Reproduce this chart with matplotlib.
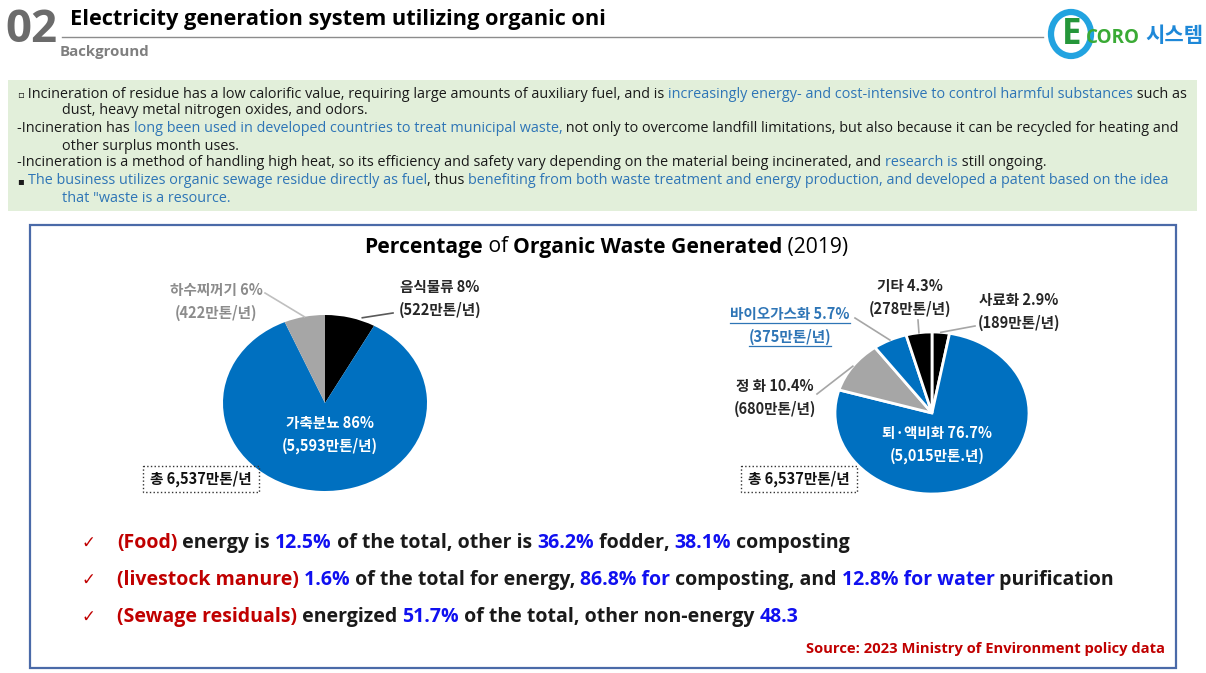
import matplotlib
matplotlib.use('Agg')
import matplotlib.pyplot as plt
from matplotlib.patches import Rectangle, Ellipse
import numpy as np

# ---- data ----
left_names = ['음식물류', '가축분뇨', '하수찌꺼기']
left_tons = [522, 5593, 422]
left_pct = ['8%', '86%', '6%']
left_amount = ['(522만톤/년)', '(5,593만톤/년)', '(422만톤/년)']
left_colors = ['#000000', '#0070c0', '#a6a6a6']

right_names = ['사료화', '퇴·액비화', '정 화', '바이오가스화', '기타']
right_pct = [2.9, 76.7, 10.4, 5.7, 4.3]
right_amount = ['(189만톤/년)', '(5,015만톤.년)', '(680만톤/년)', '(375만톤/년)', '(278만톤/년)']
right_colors = ['#000000', '#0070c0', '#a6a6a6', '#0070c0', '#000000']

total_label = '총 6,537만톤/년'

W, H = 1206, 673
EN = ['Open Sans', 'Noto Sans CJK KR', 'DejaVu Sans']
KR = ['Noto Sans CJK KR', 'DejaVu Sans']
SYM = ['DejaVu Sans']
BLK = '#1a1a1a'
BLUE = '#2e75b6'
RED = '#c00000'
PBLUE = '#1010f0'

fig = plt.figure(figsize=(W / 100, H / 100), dpi=100)
bg = fig.add_axes((0, 0, 1, 1))
bg.set_xlim(0, W)
bg.set_ylim(H, 0)
bg.axis('off')
bg.set_zorder(5)   # text layer above the pie axes
R = fig.canvas.get_renderer()


def width(s, size, weight, fam):
    t = bg.text(0, 0, s, fontsize=size, fontweight=weight, family=fam)
    w = t.get_window_extent(R).width
    t.remove()
    return w


def adv(s, size, weight, fam):
    return width('.' + s + '.', size, weight, fam) - width('..', size, weight, fam)


def runs(x, y, parts, size, fam=EN, fit=None, align='left'):
    # each part: (text, color, weight[, family[, size factor]])
    parts = [tuple(p) + (fam, 1.0)[len(p) - 3:] for p in parts]
    if fit:
        size = size * fit / sum(adv(s, size * k, wt, f) for s, c, wt, f, k in parts)
    total = sum(adv(s, size * k, wt, f) for s, c, wt, f, k in parts)
    if align == 'right':
        x -= total
    elif align == 'center':
        x -= total / 2
    for s, c, wt, f, k in parts:
        bg.text(x, y, s, color=c, fontsize=size * k, fontweight=wt, family=f,
                va='center', ha='left')
        x += adv(s, size * k, wt, f)
    return size


# ---- header ----
runs(5, 31, [('02', '#6b6b6b', 'bold')], 34, fit=52)
runs(70, 20, [('Electricity generation system utilizing organic oni', '#000000', 'bold')], 15, fit=538)
runs(60, 52, [('Background', '#7f7f7f', 'bold')], 10, fit=90)
bg.plot([62, 1043], [37, 37], color='#8c8c8c', lw=1)

# logo
bg.add_patch(Ellipse((1071, 34), 40, 44, fill=False, ec='#22a3e0', lw=4.5))
runs(1072, 35, [('E', '#25963a', 'bold')], 25, align='center')
runs(1086, 38, [('CORO', '#3aaa35', 'bold')], 12, fit=52)
runs(1145, 36, [('시스템', '#1e88d8', 'bold')], 14, fam=KR, fit=58)

# ---- green text box ----
bg.add_patch(Rectangle((8, 80), 1189, 131, fc='#e2efda', ec='none'))
box_lines = [
    (17, 94, [('▫', BLK, 'normal', SYM, 0.7),
              (' Incineration of residue has a low calorific value, requiring large amounts of auxiliary fuel, and is ', BLK, 'normal'),
              ('increasingly energy- and cost-intensive to control harmful substances', BLUE, 'normal'),
              (' such as', BLK, 'normal')]),
    (62, 111, [('dust, heavy metal nitrogen oxides, and odors.', BLK, 'normal')]),
    (17, 129, [('-Incineration has ', BLK, 'normal'),
               ('long been used in developed countries to treat municipal waste,', BLUE, 'normal'),
               (' not only to overcome landfill limitations, but also because it can be recycled for heating and', BLK, 'normal')]),
    (62, 146, [('other surplus month uses.', BLK, 'normal')]),
    (17, 163, [('-Incineration is a method of handling high heat, so its efficiency and safety vary depending on the material being incinerated, and ', BLK, 'normal'),
               ('research is', BLUE, 'normal'),
               (' still ongoing.', BLK, 'normal')]),
    (17, 181, [('▪', BLK, 'normal', SYM, 0.7), (' ', BLK, 'normal'),
               ('The business utilizes organic sewage residue directly as fuel', BLUE, 'normal'),
               (', thus ', BLK, 'normal'),
               ('benefiting from both waste treatment and energy production, and developed a patent based on the idea', BLUE, 'normal')]),
    (62, 198, [('that "waste is a resource.', BLUE, 'normal')]),
]
body = runs(box_lines[2][0], box_lines[2][1], box_lines[2][2], 10, fit=1165)
for i, (x, y, parts) in enumerate(box_lines):
    if i != 2:
        runs(x, y, parts, body)

# ---- chart frame ----
bg.add_patch(Rectangle((30, 225), 1146, 443, fill=False, ec='#4a6aa8', lw=1.6))
runs(606, 247, [('Percentage', '#000000', 'bold'), (' of ', '#000000', 'normal'),
                ('Organic Waste Generated', '#000000', 'bold'), (' (2019)', '#000000', 'normal')],
     15, align='center', fit=485)


def pie_axes(cx, cy, rx, ry):
    return fig.add_axes(((cx - rx) / W, (H - cy - ry) / H, 2 * rx / W, 2 * ry / H))


def edge_pt(ax, w, r=1.0):
    a = np.deg2rad((w.theta1 + w.theta2) / 2)
    d = ax.transData.transform((r * np.cos(a), r * np.sin(a)))
    return bg.transData.inverted().transform(d)


def label(x, y, l1, l2, color, underline=False):
    for s, yy in ((l1, y), (l2, y + 23)):
        t = bg.text(x, yy, s, color=color, fontsize=10.5, fontweight='bold', family=KR,
                    ha='center', va='center')
        if underline:
            bb = t.get_window_extent(R)
            yb = H - bb.y0 + 1
            bg.plot([bb.x0, bb.x1], [yb, yb], color=color, lw=0.9)


def leader(p, q, color):
    bg.plot([p[0], q[0]], [p[1], q[1]], color=color, lw=1.2)


# left pie
axL = pie_axes(325, 403, 102, 88)
wl, _ = axL.pie(left_tons, colors=left_colors, startangle=90, counterclock=False,
                wedgeprops=dict(linewidth=0))
axL.set_aspect('auto')
axL.set_xlim(-1, 1)
axL.set_ylim(-1, 1)

label(440, 287, f'{left_names[0]} {left_pct[0]}', left_amount[0], '#262626')
label(330, 423, f'{left_names[1]} {left_pct[1]}', left_amount[1], 'white')
label(216, 290, f'{left_names[2]} {left_pct[2]}', left_amount[2], '#8c8c8c')
leader(edge_pt(axL, wl[0], 1.0) + [12, 0], (393, 313), '#595959')
leader(edge_pt(axL, wl[2], 1.0), (265, 293), '#bfbfbf')

# right pie
axR = pie_axes(932, 413, 97, 81)
wr, _ = axR.pie(right_pct, colors=right_colors, startangle=90, counterclock=False,
                wedgeprops=dict(linewidth=2, edgecolor='white'))
axR.set_aspect('auto')
axR.set_xlim(-1, 1)
axR.set_ylim(-1, 1)

label(1019, 300, f'{right_names[0]} {right_pct[0]}%', right_amount[0], '#262626')
label(937, 433, f'{right_names[1]} {right_pct[1]}%', right_amount[1], 'white')
label(775, 386, f'{right_names[2]} {right_pct[2]}%', right_amount[2], '#262626')
label(790, 314, f'{right_names[3]} {right_pct[3]}%', right_amount[3], BLUE, underline=True)
label(910, 286, f'{right_names[4]} {right_pct[4]}%', right_amount[4], '#262626')
leader(edge_pt(axR, wr[0]), (975, 326), '#a6a6a6')
leader(edge_pt(axR, wr[2]), (817, 394), '#a6a6a6')
leader(edge_pt(axR, wr[3]), (855, 318), '#a6a6a6')
leader(edge_pt(axR, wr[4]), (918, 320), '#a6a6a6')

# total boxes
for x0 in (143, 741):
    bg.add_patch(Rectangle((x0, 466), 116, 26, fill=False, ec='#333333', lw=1, ls=':'))
    bg.text(x0 + 58, 479, total_label, fontsize=10.5, fontweight='bold', family=KR,
            color='#111111', ha='center', va='center')

# ---- bullet points ----
bullets = [
    (543, [('(Food)', RED, 'bold'), (' energy is ', BLK, 'bold'), ('12.5%', PBLUE, 'bold'),
           (' of the total, other is ', BLK, 'bold'), ('36.2%', PBLUE, 'bold'),
           (' fodder, ', BLK, 'bold'), ('38.1%', PBLUE, 'bold'), (' composting', BLK, 'bold')]),
    (580, [('(livestock manure)', RED, 'bold'), (' 1.6%', PBLUE, 'bold'),
           (' of the total for energy, ', BLK, 'bold'), ('86.8% for', PBLUE, 'bold'),
           (' composting, and ', BLK, 'bold'), ('12.8% for water', PBLUE, 'bold'),
           (' purification', BLK, 'bold')]),
    (617, [('(Sewage residuals)', RED, 'bold'), (' energized ', BLK, 'bold'),
           ('51.7%', PBLUE, 'bold'), (' of the total, other non-energy ', BLK, 'bold'),
           ('48.3', PBLUE, 'bold')]),
]
bsize = runs(117, bullets[1][0], bullets[1][1], 14, fit=1003)
for i, (y, parts) in enumerate(bullets):
    bg.text(88, y, '✓', color=RED, fontsize=12, family=SYM, ha='center', va='center')
    if i != 1:
        runs(117, y, parts, bsize)

runs(1165, 649, [('Source: 2023 Ministry of Environment policy data', RED, 'bold')], 10,
     fit=360, align='right')

fig.savefig('out.png', dpi=100)
